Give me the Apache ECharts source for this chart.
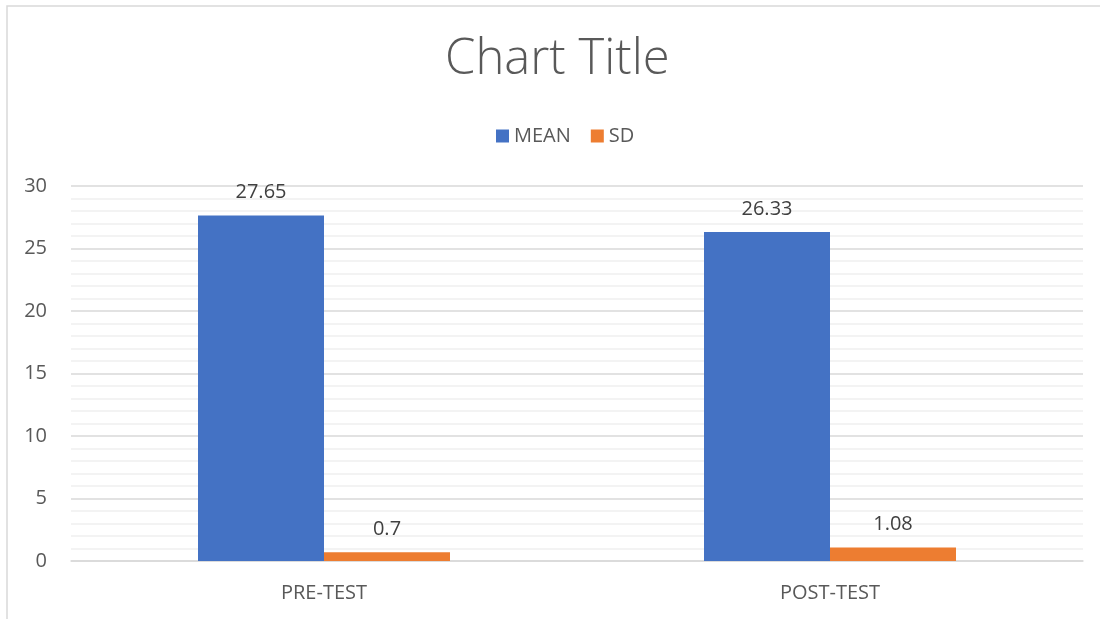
<!DOCTYPE html>
<html><head><meta charset="utf-8">
<script src="https://cdn.jsdelivr.net/npm/echarts@6/dist/echarts.min.js"></script>
<style>html,body{margin:0;padding:0;background:#fff}#c{width:1100px;height:619px}</style>
</head><body><div id="c"></div>
<script>
const categories = ['PRE-TEST', 'POST-TEST'];
const meanValues = [27.65, 26.33];
const sdValues = [0.7, 1.08];
const seriesNames = ['MEAN', 'SD'];
const yTicks = [0, 5, 10, 15, 20, 25, 30];

const chart = echarts.init(document.getElementById('c'), null, {renderer: 'canvas'});
const font = 'Open Sans';
const lbl = {show: true, position: 'top', distance: 13, color: '#404040', fontSize: 20, fontFamily: font};
chart.setOption({
  animation: false,
  graphic: [{type: 'rect', shape: {x: 7, y: 6, width: 1200, height: 700}, style: {fill: 'none', stroke: '#d9d9d9', lineWidth: 1.5}, silent: true}],
  title: {text: 'Chart Title', left: 440, top: 31, textStyle: {fontFamily: font, fontWeight: 300, fontSize: 49, color: '#595959'}},
  legend: {data: seriesNames, top: 121, left: 491, itemWidth: 13, itemHeight: 13, itemGap: 20, icon: 'rect',
    textStyle: {fontFamily: font, fontSize: 20, color: '#595959'}},
  grid: {left: 71, right: 17, top: 186, bottom: 58},
  xAxis: {type: 'category', data: categories,
    axisLine: {lineStyle: {color: '#d9d9d9', width: 1.5}}, axisTick: {show: false},
    axisLabel: {fontFamily: font, fontSize: 20, color: '#595959', margin: 22}},
  yAxis: {type: 'value', min: yTicks[0], max: yTicks[yTicks.length - 1], interval: 5,
    axisLine: {show: false}, axisTick: {show: false},
    axisLabel: {fontFamily: font, fontSize: 20, color: '#595959', margin: 24},
    splitLine: {lineStyle: {color: '#d9d9d9', width: 1.5}},
    minorTick: {show: false, splitNumber: 5},
    minorSplitLine: {show: true, lineStyle: {color: '#f0f0f0', width: 1.5}}},
  series: [
    {name: seriesNames[0], type: 'bar', data: meanValues, barWidth: 126, barGap: '0%', itemStyle: {color: '#4472C4'}, label: lbl},
    {name: seriesNames[1], type: 'bar', data: sdValues, barWidth: 126, barGap: '0%', itemStyle: {color: '#ED7D31'}, label: lbl}
  ]
});
</script></body></html>
